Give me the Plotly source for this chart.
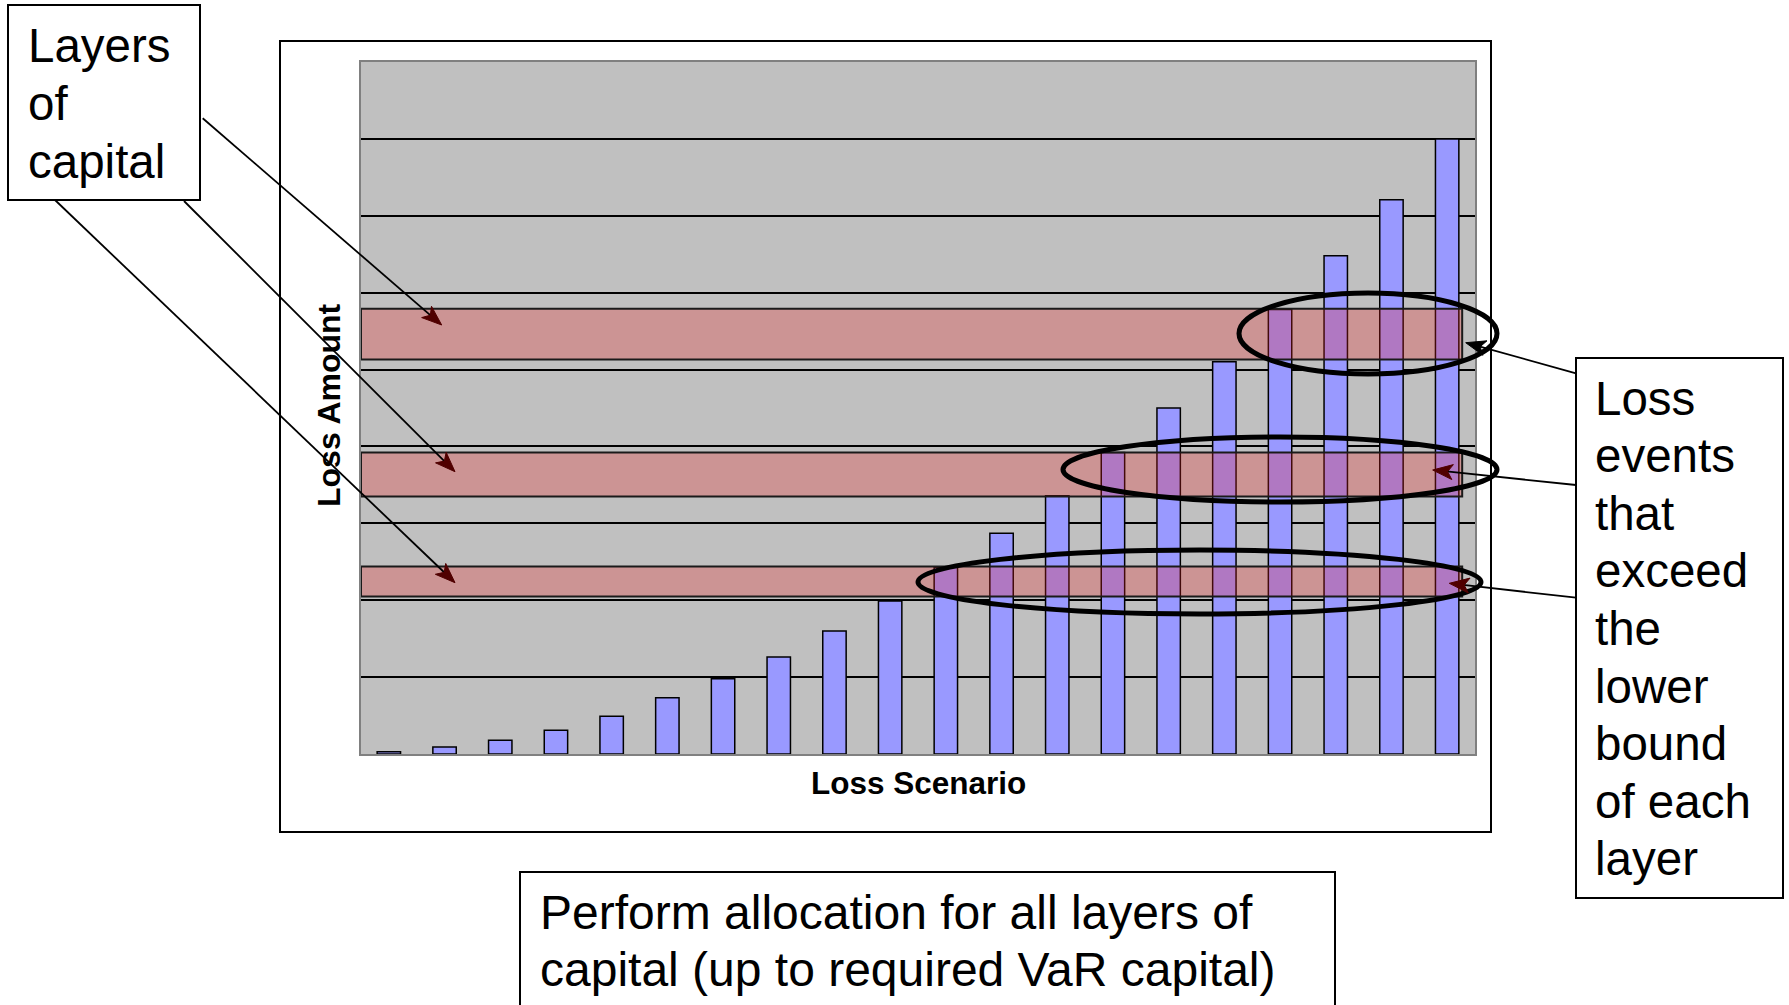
import math
import plotly.graph_objects as go

# ---------------- data ----------------
scenarios = list(range(1, 21))
loss_amounts = [0.03, 0.09, 0.18, 0.31, 0.49, 0.73, 0.98, 1.26, 1.60, 1.99,
                2.43, 2.87, 3.36, 3.92, 4.50, 5.10, 5.78, 6.48, 7.21, 8.00]
layer_lower = [5.13, 3.35, 2.05]
layer_upper = [5.79, 3.92, 2.44]
layer_end = 20.27
grid_values = [1, 2, 3, 4, 5, 6, 7, 8]
y_max = 9

x_title = "Loss Scenario"
y_title = "Loss Amount"
left_text = ["Layers", "of", "capital"]
right_text = ["Loss", "events", "that", "exceed", "the", "lower", "bound", "of each", "layer"]
bottom_text = ["Perform allocation for all layers of", "capital (up to required VaR capital)"]

# ---------------- layout geometry (pixels) ----------------
FIG_W, FIG_H = 1789, 1005
L, R, T, B = 361, 314, 62, 251
PW = FIG_W - L - R
PH = FIG_H - T - B


def px(X):
    return (X - L) / PW


def py(Y):
    return (FIG_H - B - Y) / PH


FONT = "Liberation Sans, Arial, sans-serif"
DARK_RED = "#500000"

fig = go.Figure()
fig.add_trace(go.Bar(
    x=scenarios, y=loss_amounts,
    marker=dict(color="#9999FF", line=dict(color="black", width=1.5)),
    hoverinfo="skip", showlegend=False,
))

shapes = []
annotations = []

# capital layers (bands)
for lo, hi in zip(layer_lower, layer_upper):
    shapes.append(dict(type="rect", xref="x", yref="y", x0=0.5, x1=layer_end, y0=lo, y1=hi,
                       fillcolor="rgba(236,36,36,0.28)", line=dict(color="#1a1a1a", width=2),
                       layer="above"))


def rect_px(x0, y0, x1, y1, width=2):
    return dict(type="rect", xref="paper", yref="paper", x0=px(x0), x1=px(x1), y0=py(y1), y1=py(y0),
                line=dict(color="black", width=width), fillcolor="rgba(0,0,0,0)", layer="above")


# outer chart frame and text boxes
shapes.append(rect_px(280, 41, 1491, 832))
shapes.append(rect_px(8, 5, 200, 200))
shapes.append(rect_px(1576, 358, 1783, 898))
shapes.append(rect_px(520, 872, 1335, 1015))

# ellipses
for (x0, y0, x1, y1) in [(1239, 293, 1497, 374), (1063, 437, 1497, 502), (918, 550, 1481, 614)]:
    shapes.append(dict(type="circle", xref="paper", yref="paper", x0=px(x0), x1=px(x1),
                       y0=py(y1), y1=py(y0), line=dict(color="black", width=5), layer="above"))


def arrow(tail, tip, head_color, length=20, half=7.5):
    dx, dy = tip[0] - tail[0], tip[1] - tail[1]
    d = math.hypot(dx, dy)
    ux, uy = dx / d, dy / d
    nx, ny = -uy, ux
    end = (tip[0] - 0.7 * length * ux, tip[1] - 0.7 * length * uy)
    shapes.append(dict(type="line", xref="paper", yref="paper", x0=px(tail[0]), y0=py(tail[1]),
                       x1=px(end[0]), y1=py(end[1]), line=dict(color="black", width=1.8), layer="above"))
    bx, by = tip[0] - length * ux, tip[1] - length * uy
    pts = [tip, (bx + half * nx, by + half * ny), (tip[0] - 0.75 * length * ux, tip[1] - 0.75 * length * uy),
           (bx - half * nx, by - half * ny)]
    path = "M " + " L ".join(f"{px(x):.5f},{py(y):.5f}" for x, y in pts) + " Z"
    shapes.append(dict(type="path", xref="paper", yref="paper", path=path, fillcolor=head_color,
                       line=dict(color=head_color, width=1), layer="above"))


arrow((202.7, 118.3), (441.7, 325), DARK_RED)
arrow((184, 201), (455, 471.7), DARK_RED)
arrow((55, 200), (455, 582.7), DARK_RED)
arrow((1576, 373.3), (1465.7, 342.7), "black")
arrow((1576, 485), (1432.7, 470), DARK_RED)
arrow((1576, 597.7), (1449.3, 583.3), DARK_RED)


def text_px(txt, X, Y, size=47, bold=False, angle=0, xanchor="left"):
    annotations.append(dict(text=f"<b>{txt}</b>" if bold else txt, xref="paper", yref="paper",
                            x=px(X), y=py(Y), xanchor=xanchor, yanchor="middle", showarrow=False,
                            textangle=angle, font=dict(family=FONT, size=size, color="black")))


for i, t in enumerate(left_text):
    text_px(t, 25.5, 45.5 + 58.2 * i, size=47.5)
for i, t in enumerate(right_text):
    text_px(t, 1593, 398 + 57.6 * i, size=47.5)
for i, t in enumerate(bottom_text):
    text_px(t, 537.5, 912 + 57.6 * i, size=48)

text_px(x_title, 918, 783, size=31.5, bold=True, xanchor="center")
text_px(y_title, 329, 405, size=32, bold=True, angle=-90, xanchor="center")

fig.update_layout(
    width=FIG_W, height=FIG_H,
    margin=dict(l=L, r=R, t=T, b=B, pad=0),
    paper_bgcolor="white", plot_bgcolor="#C0C0C0",
    bargap=0.58,
    shapes=shapes, annotations=annotations,
    showlegend=False,
    xaxis=dict(range=[0.5, 20.5], showticklabels=False, ticks="", showgrid=False, zeroline=False,
               showline=True, mirror=True, linecolor="#808080", linewidth=2, fixedrange=True),
    yaxis=dict(range=[0, y_max], tickvals=grid_values, showticklabels=False, ticks="", showgrid=True,
               gridcolor="black", gridwidth=1.5, zeroline=False,
               showline=True, mirror=True, linecolor="#808080", linewidth=2, fixedrange=True),
)

fig.write_html("out.html", config={"displayModeBar": False},
               post_script="document.body.style.margin='0px';document.body.style.overflow='hidden';")
